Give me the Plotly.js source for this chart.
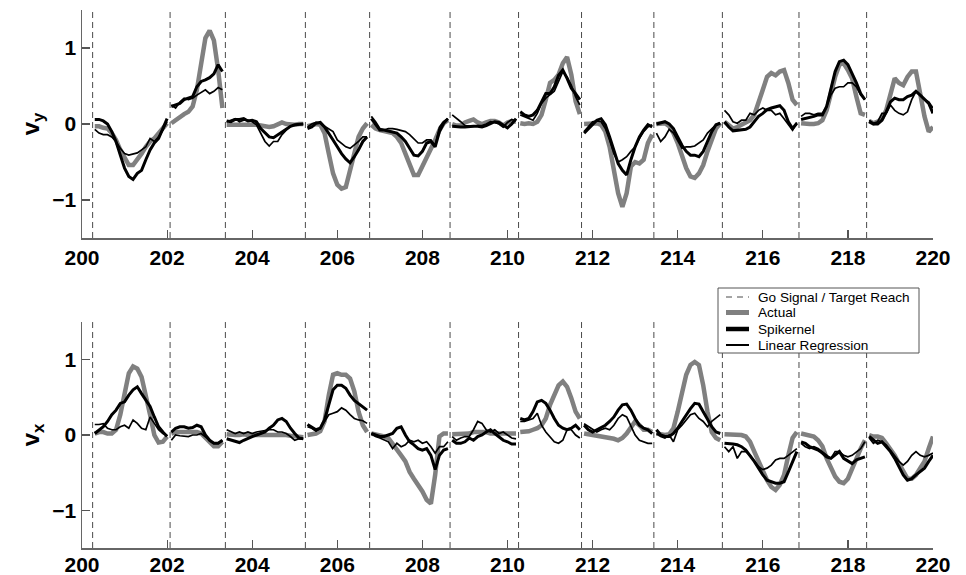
<!DOCTYPE html>
<html><head><meta charset="utf-8">
<script src="https://cdn.plot.ly/plotly-3.0.1.min.js"></script>
<style>html,body{margin:0;padding:0;background:#fff}#chart{width:966px;height:575px}</style>
</head><body><div id="chart"></div>
<script>
// Go signal / target reach event times
const goTimes = [200.25, 202.07, 203.37, 205.25, 206.76, 208.65, 210.26, 211.74, 213.44, 215.05, 216.85, 218.44];

// sample times, one list per movement segment
const tSeg = [
  [200.3,200.4,200.5,200.6,200.7,200.8,200.9,201.0,201.1,201.2,201.3,201.4,201.5,201.6,201.7,201.8,201.9,202.0],
  [202.1,202.2,202.3,202.4,202.5,202.6,202.7,202.8,202.9,203.0,203.1,203.2,203.3],
  [203.4,203.5,203.6,203.7,203.8,203.9,204.0,204.1,204.2,204.3,204.4,204.5,204.6,204.7,204.8,204.9,205.0,205.1,205.2],
  [205.3,205.4,205.5,205.6,205.7,205.8,205.9,206.0,206.1,206.2,206.3,206.4,206.5,206.6,206.7],
  [206.8,206.9,207.0,207.1,207.2,207.3,207.4,207.5,207.6,207.7,207.8,207.9,208.0,208.1,208.2,208.3,208.4,208.5,208.6],
  [208.7,208.8,208.9,209.0,209.1,209.2,209.3,209.4,209.5,209.6,209.7,209.8,209.9,210.0,210.1,210.2],
  [210.3,210.4,210.5,210.6,210.7,210.8,210.9,211.0,211.1,211.2,211.3,211.4,211.5,211.6,211.7],
  [211.8,211.9,212.0,212.1,212.2,212.3,212.4,212.5,212.6,212.7,212.8,212.9,213.0,213.1,213.2,213.3,213.4],
  [213.5,213.6,213.7,213.8,213.9,214.0,214.1,214.2,214.3,214.4,214.5,214.6,214.7,214.8,214.9,215.0],
  [215.1,215.2,215.3,215.4,215.5,215.6,215.7,215.8,215.9,216.0,216.1,216.2,216.3,216.4,216.5,216.6,216.7,216.8],
  [216.9,217.0,217.1,217.2,217.3,217.4,217.5,217.6,217.7,217.8,217.9,218.0,218.1,218.2,218.3,218.4],
  [218.5,218.6,218.7,218.8,218.9,219.0,219.1,219.2,219.3,219.4,219.5,219.6,219.7,219.8,219.9,220.0]
];

// v_y (top panel)
const vyActual = [
  [-0.03,-0.03,-0.05,-0.06,-0.12,-0.21,-0.34,-0.45,-0.54,-0.54,-0.47,-0.39,-0.30,-0.23,-0.19,-0.12,-0.06,0.01],
  [0.01,0.05,0.10,0.13,0.16,0.23,0.45,0.84,1.13,1.23,1.10,0.71,0.21],
  [-0.01,-0.01,0.0,0.0,-0.01,0.0,-0.01,-0.01,-0.02,-0.03,-0.04,-0.03,0.0,0.02,0.0,-0.01,-0.01,0.0,0.0],
  [-0.03,-0.01,0.0,-0.01,-0.12,-0.39,-0.65,-0.80,-0.85,-0.83,-0.61,-0.34,-0.17,-0.06,0.01],
  [-0.01,-0.06,-0.08,-0.09,-0.10,-0.12,-0.17,-0.25,-0.39,-0.54,-0.67,-0.67,-0.56,-0.43,-0.34,-0.21,-0.08,0.01,0.05],
  [0.0,-0.02,-0.02,0.02,0.04,0.06,0.02,0.0,0.02,0.04,0.04,0.02,-0.02,0.02,0.04,0.03],
  [0.01,0.0,0.01,0.0,0.03,0.12,0.32,0.54,0.58,0.65,0.80,0.88,0.65,0.30,0.13],
  [0.0,0.0,0.0,0.01,-0.01,-0.10,-0.30,-0.61,-0.91,-1.09,-0.91,-0.56,-0.50,-0.52,-0.47,-0.25,-0.14],
  [0.0,0.0,0.01,-0.03,-0.12,-0.25,-0.43,-0.58,-0.69,-0.71,-0.65,-0.54,-0.36,-0.21,-0.06,0.01],
  [0.03,-0.01,-0.06,-0.04,-0.01,0.01,0.05,0.12,0.27,0.45,0.62,0.67,0.64,0.69,0.71,0.54,0.32,0.25],
  [0.01,0.0,0.0,0.0,0.01,0.05,0.18,0.40,0.62,0.78,0.80,0.71,0.60,0.36,0.14,0.12],
  [0.04,0.01,0.03,0.07,0.18,0.40,0.60,0.54,0.51,0.62,0.69,0.69,0.40,0.10,-0.10,-0.04]
];
const vySpikernel = [
  [0.06,0.06,0.04,0.00,-0.10,-0.23,-0.41,-0.58,-0.69,-0.73,-0.65,-0.61,-0.47,-0.34,-0.25,-0.19,-0.06,0.07],
  [0.23,0.25,0.27,0.32,0.34,0.36,0.49,0.56,0.58,0.61,0.66,0.78,0.69],
  [0.04,0.03,0.06,0.06,0.07,0.04,0.05,0.03,-0.06,-0.12,-0.17,-0.18,-0.14,-0.10,-0.06,-0.03,-0.01,0.0,0.0],
  [-0.06,-0.04,0.01,0.02,-0.04,-0.12,-0.21,-0.30,-0.39,-0.46,-0.51,-0.43,-0.34,-0.23,-0.17],
  [0.07,-0.01,-0.08,-0.08,-0.09,-0.10,-0.12,-0.17,-0.23,-0.32,-0.41,-0.42,-0.36,-0.25,-0.23,-0.30,-0.10,0.01,0.07],
  [-0.03,-0.04,-0.04,-0.04,-0.03,-0.03,-0.03,-0.04,-0.02,0.01,0.03,0.02,-0.02,-0.05,0.0,0.07],
  [0.16,0.12,0.10,0.12,0.18,0.29,0.40,0.40,0.49,0.64,0.71,0.60,0.47,0.40,0.32],
  [-0.12,-0.06,-0.01,0.05,0.07,-0.01,-0.17,-0.34,-0.52,-0.61,-0.67,-0.47,-0.30,-0.17,-0.08,-0.01,-0.04],
  [0.0,0.02,0.03,0.0,-0.06,-0.17,-0.28,-0.36,-0.41,-0.41,-0.43,-0.36,-0.23,-0.10,-0.01,0.01],
  [0.03,-0.04,-0.09,-0.08,-0.07,-0.07,-0.04,0.03,0.10,0.14,0.19,0.21,0.23,0.24,0.18,0.03,-0.06,0.01],
  [0.06,0.07,0.09,0.10,0.12,0.12,0.23,0.45,0.69,0.82,0.84,0.78,0.67,0.54,0.40,0.32],
  [0.03,0.0,0.0,0.05,0.16,0.29,0.34,0.32,0.32,0.36,0.38,0.43,0.38,0.32,0.27,0.14]
];
const vyLinear = [
  [-0.07,-0.12,-0.14,-0.14,-0.17,-0.23,-0.32,-0.39,-0.41,-0.39,-0.38,-0.34,-0.30,-0.19,-0.23,-0.17,-0.08,0.03],
  [0.25,0.21,0.29,0.34,0.32,0.34,0.38,0.41,0.45,0.40,0.43,0.48,0.45],
  [0.03,0.05,0.07,0.03,0.05,0.05,0.03,-0.01,-0.12,-0.23,-0.29,-0.23,-0.23,-0.14,-0.08,-0.03,-0.01,0.0,0.0],
  [-0.04,0.0,0.02,0.01,-0.03,-0.06,-0.10,-0.21,-0.25,-0.30,-0.32,-0.28,-0.23,-0.17,-0.17],
  [0.10,0.03,-0.06,-0.08,-0.06,-0.06,-0.07,-0.09,-0.10,-0.14,-0.19,-0.25,-0.25,-0.21,-0.21,-0.28,-0.04,0.03,0.07],
  [0.12,0.08,0.03,-0.02,-0.03,-0.03,-0.02,-0.02,0.0,0.03,0.02,0.0,-0.04,0.02,0.06,0.04],
  [0.12,0.10,0.07,0.05,0.14,0.27,0.34,0.38,0.43,0.56,0.69,0.62,0.51,0.36,0.25],
  [-0.10,-0.04,0.03,0.04,0.03,-0.06,-0.21,-0.39,-0.50,-0.47,-0.43,-0.36,-0.30,-0.19,-0.10,-0.04,-0.01],
  [-0.12,-0.23,-0.17,-0.07,-0.12,-0.23,-0.32,-0.30,-0.30,-0.29,-0.25,-0.21,-0.12,-0.06,-0.01,0.01],
  [0.18,0.12,0.03,0.01,0.05,0.05,0.14,0.12,0.18,0.21,0.18,0.18,0.12,0.14,0.07,-0.01,-0.08,0.02],
  [0.10,0.14,0.14,0.12,0.14,0.14,0.23,0.38,0.47,0.49,0.49,0.54,0.54,0.49,0.38,0.32],
  [0.05,0.01,0.03,0.14,0.14,0.25,0.18,0.14,0.12,0.16,0.32,0.43,0.38,0.32,0.29,0.21]
];

// v_x (bottom panel)
const vxActual = [
  [0.02,0.04,0.04,0.02,0.02,0.07,0.27,0.58,0.82,0.91,0.88,0.77,0.55,0.27,0.0,-0.10,-0.09,-0.02],
  [0.02,0.04,0.04,0.04,0.04,0.04,0.04,0.02,-0.04,-0.11,-0.15,-0.15,-0.09],
  [0.01,0.0,0.0,0.0,0.01,0.0,0.0,0.01,0.01,0.0,0.0,0.0,0.0,0.01,0.0,-0.01,-0.02,-0.03,-0.03],
  [0.0,0.01,0.02,0.05,0.18,0.53,0.80,0.82,0.80,0.80,0.75,0.58,0.31,0.13,0.04],
  [0.02,0.01,-0.01,-0.02,-0.04,-0.11,-0.18,-0.27,-0.35,-0.49,-0.58,-0.66,-0.75,-0.86,-0.91,-0.53,-0.02,0.02,0.02],
  [0.01,0.01,0.01,0.01,0.02,0.04,0.04,0.04,0.04,0.02,0.02,0.02,0.02,0.02,0.02,0.02],
  [0.04,0.04,0.05,0.07,0.09,0.13,0.22,0.40,0.55,0.66,0.71,0.64,0.49,0.31,0.22],
  [0.02,0.01,0.01,0.0,-0.01,-0.02,-0.04,-0.05,-0.07,-0.04,0.02,0.09,0.18,0.13,0.07,0.07,0.04],
  [0.02,0.01,0.0,0.01,0.09,0.31,0.58,0.80,0.93,0.97,0.93,0.66,0.31,0.04,-0.04,-0.07],
  [0.01,0.01,0.01,0.01,0.0,-0.02,-0.09,-0.22,-0.35,-0.49,-0.60,-0.69,-0.73,-0.66,-0.53,-0.27,-0.04,0.04],
  [0.02,0.01,0.0,-0.02,-0.07,-0.15,-0.31,-0.44,-0.55,-0.62,-0.64,-0.58,-0.44,-0.31,-0.18,-0.07],
  [0.0,-0.02,-0.02,-0.04,-0.11,-0.18,-0.27,-0.38,-0.49,-0.58,-0.58,-0.53,-0.44,-0.35,-0.18,-0.02]
];
const vxSpikernel = [
  [0.02,0.07,0.11,0.18,0.27,0.33,0.42,0.44,0.53,0.60,0.64,0.55,0.46,0.38,0.24,0.11,0.04,-0.02],
  [0.04,0.09,0.11,0.11,0.09,0.10,0.13,0.11,0.0,-0.07,-0.11,-0.11,-0.07],
  [-0.05,-0.07,-0.08,-0.10,-0.07,-0.04,-0.02,0.0,0.02,0.04,0.09,0.13,0.20,0.22,0.18,0.09,0.02,-0.04,-0.05],
  [0.14,0.11,0.07,0.09,0.20,0.40,0.60,0.66,0.66,0.62,0.53,0.46,0.42,0.38,0.33],
  [0.02,0.0,-0.02,-0.02,0.0,0.02,0.09,0.11,0.0,-0.09,-0.13,-0.18,-0.20,-0.18,-0.27,-0.46,-0.27,-0.20,-0.18],
  [-0.07,-0.11,-0.11,-0.09,-0.04,-0.07,-0.02,0.0,0.04,0.07,0.02,-0.02,-0.07,-0.09,-0.12,-0.12],
  [0.22,0.20,0.22,0.31,0.44,0.46,0.42,0.33,0.22,0.13,0.09,0.07,0.09,0.13,0.07],
  [0.13,0.07,0.04,0.07,0.11,0.13,0.18,0.24,0.33,0.40,0.41,0.33,0.22,0.13,0.09,0.07,0.02],
  [0.07,0.0,-0.02,-0.02,0.02,0.09,0.18,0.27,0.35,0.42,0.41,0.31,0.20,0.11,0.04,0.02],
  [-0.11,-0.11,-0.12,-0.13,-0.155,-0.20,-0.27,-0.35,-0.44,-0.53,-0.60,-0.62,-0.64,-0.64,-0.62,-0.49,-0.35,-0.22],
  [-0.09,-0.11,-0.155,-0.18,-0.20,-0.24,-0.29,-0.31,-0.27,-0.22,-0.31,-0.35,-0.38,-0.33,-0.31,-0.29],
  [-0.02,-0.07,-0.11,-0.09,-0.155,-0.22,-0.31,-0.42,-0.53,-0.60,-0.58,-0.53,-0.49,-0.44,-0.35,-0.27]
];
const vxLinear = [
  [0.14,0.14,0.15,0.09,0.07,0.07,0.11,0.13,0.09,0.20,0.155,0.09,0.07,0.24,0.155,0.07,0.02,0.0],
  [-0.07,0.0,-0.01,-0.02,-0.02,0.0,0.0,0.02,-0.02,-0.07,-0.11,-0.11,-0.07],
  [0.07,0.04,0.02,0.04,0.02,0.04,0.02,0.04,0.05,0.07,0.07,0.07,0.04,0.04,0.02,-0.02,-0.07,-0.05,-0.05],
  [0.11,0.09,0.05,0.09,0.18,0.27,0.29,0.31,0.36,0.33,0.27,0.22,0.20,0.19,0.155],
  [0.02,-0.02,-0.04,-0.07,-0.09,-0.18,-0.11,-0.155,-0.13,-0.07,-0.09,-0.07,-0.11,-0.09,-0.155,-0.24,-0.155,-0.155,-0.09],
  [-0.02,-0.07,-0.04,-0.02,-0.02,0.07,0.18,0.155,0.07,0.04,0.07,0.02,0.04,0.0,-0.04,-0.05],
  [0.18,0.18,0.20,0.22,0.29,0.13,0.04,-0.02,-0.09,-0.11,-0.07,0.07,0.07,0.0,-0.04],
  [0.15,0.11,0.07,0.04,0.07,0.09,0.07,0.13,0.22,0.27,0.24,0.13,0.0,-0.07,-0.09,-0.11,-0.11],
  [0.02,-0.02,-0.04,0.0,-0.09,0.07,0.13,0.20,0.27,0.29,0.22,0.18,0.11,0.18,0.22,0.27],
  [-0.155,-0.22,-0.155,-0.31,-0.22,-0.22,-0.27,-0.35,-0.42,-0.46,-0.44,-0.40,-0.33,-0.31,-0.31,-0.27,-0.22,-0.18],
  [-0.11,-0.155,-0.18,-0.155,-0.18,-0.22,-0.27,-0.31,-0.22,-0.22,-0.27,-0.29,-0.27,-0.22,-0.18,-0.09],
  [-0.04,-0.11,-0.07,-0.09,-0.13,-0.20,-0.27,-0.35,-0.40,-0.35,-0.27,-0.22,-0.27,-0.29,-0.27,-0.24]
];

const yLimits = [-1.5, 1.5];
const xTicks = [200,202,204,206,208,210,212,214,216,218,220];
const legendNames = ['Go Signal / Target Reach', 'Actual', 'Spikernel', 'Linear Regression'];

function flat(segs){ const out=[]; segs.forEach((s,i)=>{ if(i) out.push(null); s.forEach(v=>out.push(v)); }); return out; }
const T = flat(tSeg);

const goX = [], goY = [];
goTimes.forEach(g=>{ goX.push(g,g,null); goY.push(yLimits[0], yLimits[1], null); });

const GRAY = '#808080';
const DASH = {color:'#4a4a4a', width:1, dash:'6px,4px'};
const STYLES = [
  {color:GRAY, width:4.5},
  {color:'#000', width:3},
  {color:'#000', width:1.7}
];
const traces = [];
[['x','y'],['x2','y2']].forEach(([xa,ya])=>{
  traces.push({x:goX,y:goY,xaxis:xa,yaxis:ya,mode:'lines',name:legendNames[0],showlegend:false,line:DASH,hoverinfo:'skip'});
});
const series = [[vyActual, vxActual],[vySpikernel, vxSpikernel],[vyLinear, vxLinear]];
series.forEach(([top, bot], k)=>{
  traces.push({x:T,y:flat(top),xaxis:'x',yaxis:'y',mode:'lines',name:legendNames[k+1],showlegend:false,line:Object.assign({},STYLES[k]),connectgaps:false});
  traces.push({x:T,y:flat(bot),xaxis:'x2',yaxis:'y2',mode:'lines',name:legendNames[k+1],showlegend:false,line:Object.assign({},STYLES[k]),connectgaps:false});
});

// layout geometry
const W = 966, H = 575, M = {l:82, r:33, t:10, b:27};
const PW = W - M.l - M.r, PH = H - M.t - M.b;
const px2x = p => (p - M.l) / PW;
const px2y = p => (H - M.b - p) / PH;

// hand-drawn legend box (pixel placement as in the reference)
const shapes = [], annotations = [];
const LEG = {x0:718, x1:919, y0:288, y1:353, rows:[297, 312.5, 329, 345], s0:726, s1:749, tx:756};
shapes.push({type:'rect', xref:'paper', yref:'paper', x0:px2x(LEG.x0), x1:px2x(LEG.x1), y0:px2y(LEG.y1), y1:px2y(LEG.y0),
  line:{color:'#555', width:1}, fillcolor:'#fff', layer:'above'});
const legLines = [{color:'#4a4a4a', width:1, dash:'6px,5px'}, {color:GRAY, width:5}, {color:'#000', width:4.5}, {color:'#000', width:2}];
legendNames.forEach((nm, i)=>{
  const yy = px2y(LEG.rows[i]);
  shapes.push({type:'line', xref:'paper', yref:'paper', x0:px2x(LEG.s0), x1:px2x(LEG.s1), y0:yy, y1:yy, line:legLines[i], layer:'above'});
  annotations.push({xref:'paper', yref:'paper', x:px2x(LEG.tx), y:yy, xanchor:'left', yanchor:'middle', showarrow:false,
    text:nm, font:{family:'Liberation Sans, Arial, sans-serif', size:13.6, color:'#000'}});
});

const tickFont = {family:'Liberation Sans, Arial, sans-serif', size:21, color:'#000', weight:'bold'};
const xax = (anchor, standoff)=>({range:[200,220], tickvals:xTicks, ticktext:xTicks.map(String), ticks:'inside', ticklen:8, tickwidth:1.2, tickcolor:'#555',
  showline:true, linecolor:'#666', linewidth:1.5, showgrid:false, zeroline:false, tickfont:tickFont, anchor:anchor, domain:[0,1], fixedrange:true,
  ticklabelstandoff:standoff});
const yax = (anchor, dom, title)=>({range:yLimits, tickvals:[-1,0,1], ticktext:['\u22121','0','1'], ticks:'inside', ticklen:8, tickwidth:1.2, tickcolor:'#555',
  showline:true, linecolor:'#666', linewidth:1.5, showgrid:false, zeroline:false, tickfont:tickFont, anchor:anchor, domain:dom,
  title:{text:title, font:{family:'Liberation Sans, Arial, sans-serif', size:24, color:'#000', weight:'bold'}, standoff:6}, automargin:false});

const layout = {
  width:W, height:H, paper_bgcolor:'#fff', plot_bgcolor:'#fff',
  margin:M, showlegend:false,
  xaxis: xax('y', 0),
  yaxis: yax('x', [0.5762, 1], 'v<sub>y</sub>'),
  xaxis2: xax('y2', -3),
  yaxis2: yax('x2', [0, 0.42], 'v<sub>x</sub>'),
  shapes: shapes, annotations: annotations
};
Plotly.newPlot('chart', traces, layout, {displayModeBar:false, staticPlot:true});
</script></body></html>
